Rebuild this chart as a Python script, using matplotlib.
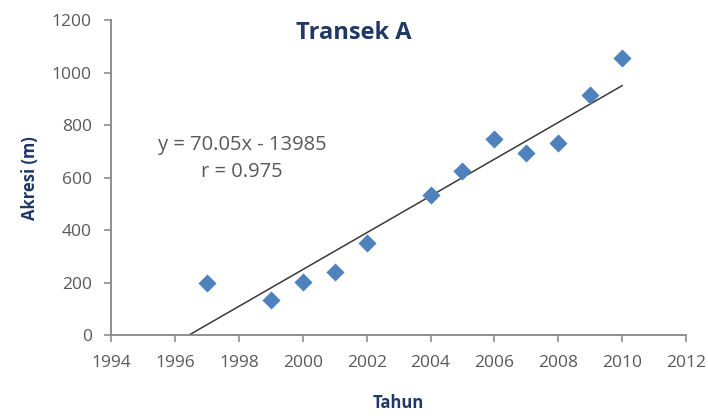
import numpy as np
import matplotlib
matplotlib.use("Agg")
import matplotlib.pyplot as plt

plt.rcParams.update({
    "font.family": ["Open Sans", "DejaVu Sans"],
    "font.size": 12,
})

MARKER = "#4F81BD"
TEXT = "#1F3864"
TICK = "#595959"
AXIS = "#868686"

# --- data ------------------------------------------------------------------
tahun = [1997, 1999, 2000, 2001, 2002, 2004, 2005, 2006, 2007, 2008, 2009, 2010]
akresi = [198, 133, 204, 239, 350, 533, 626, 748, 693, 731, 914, 1055]
slope, intercept = 70.05, -139850.0   # label shows the rounded "-13985"
r_value = 0.975

fig = plt.figure(figsize=(7.08, 4.19), dpi=100)
ax = fig.add_axes([0.157, 0.200, 0.812, 0.752])

ax.scatter(tahun, akresi, marker="D", s=85, color=MARKER, zorder=3,
           linewidths=0)

# trend line, from where it crosses zero up to the last year
x0 = -intercept / slope
xs = np.array([x0, max(tahun)])
ax.plot(xs, slope * xs + intercept, color="#3a3a3a", lw=1.1, zorder=2)

ax.set_xlim(1994, 2012)
ax.set_ylim(0, 1200)
ax.set_xticks(range(1994, 2013, 2))
ax.set_yticks(range(0, 1201, 200))

for s in ("top", "right"):
    ax.spines[s].set_visible(False)
for s in ("left", "bottom"):
    ax.spines[s].set_color(AXIS)
    ax.spines[s].set_linewidth(1.3)
ax.tick_params(colors=AXIS, labelcolor=TICK, length=5, width=1.1,
               labelsize=12.5)
ax.tick_params(axis="x", pad=9)
ax.tick_params(axis="y", pad=9)

ax.set_xlabel("Tahun", fontsize=12, fontweight="bold", color=TEXT,
              labelpad=17)
ax.set_ylabel("Akresi (m)", fontsize=12, fontweight="bold", color=TEXT,
              labelpad=9)

ax.text(2001.6, 1150, "Transek A", ha="center", va="center", fontsize=17,
        fontweight="bold", color=TEXT)
ax.text(1998.1, 724, "y = 70.05x - 13985", ha="center", va="center",
        fontsize=14.5, color=TICK)
ax.text(1998.1, 621, f"r = {r_value}", ha="center", va="center",
        fontsize=14.5, color=TICK)

fig.savefig("out.png", dpi=100, facecolor="white")
